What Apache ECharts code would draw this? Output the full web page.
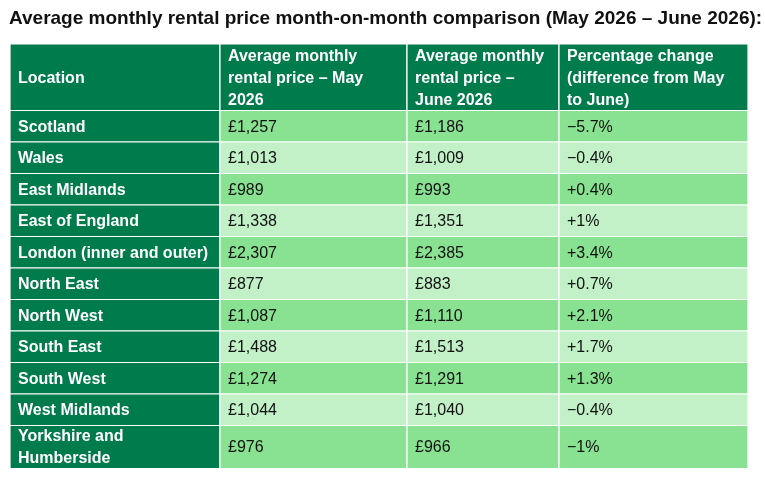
<!DOCTYPE html>
<html>
<head>
<meta charset="utf-8">
<script src="https://cdn.jsdelivr.net/npm/echarts@6/dist/echarts.min.js"></script>
<style>
  html, body { margin: 0; padding: 0; background: #fff; }
  #main { width: 765px; height: 484px; }
</style>
</head>
<body>
<div id="main"></div>
<script>
  var headers = [
    'Location',
    'Average monthly\nrental price – May\n2026',
    'Average monthly\nrental price –\nJune 2026',
    'Percentage change\n(difference from May\nto June)'
  ];
  var locations = ['Scotland', 'Wales', 'East Midlands', 'East of England', 'London (inner and outer)',
    'North East', 'North West', 'South East', 'South West', 'West Midlands', 'Yorkshire and\nHumberside'];
  var mayPrices = ['£1,257', '£1,013', '£989', '£1,338', '£2,307', '£877', '£1,087', '£1,488', '£1,274', '£1,044', '£976'];
  var junePrices = ['£1,186', '£1,009', '£993', '£1,351', '£2,385', '£883', '£1,110', '£1,513', '£1,291', '£1,040', '£966'];
  var changes = ['−5.7%', '−0.4%', '+0.4%', '+1%', '+3.4%', '+0.7%', '+2.1%', '+1.7%', '+1.3%', '−0.4%', '−1%'];

  // layout (in table units = pixels)
  var colEdges = [0, 210, 397, 549, 738];
  var rowHeights = [66.5, 31.5, 31.5, 31.5, 31.5, 31.5, 31.5, 31.5, 31.5, 31.5, 31.5, 43];
  var rowEdges = [0];
  for (var r = 0; r < rowHeights.length; r++) rowEdges.push(rowEdges[r] + rowHeights[r]);

  var cells = [];
  for (var c = 0; c < headers.length; c++) cells.push([c, 0, headers[c]]);
  for (var i = 0; i < locations.length; i++) {
    cells.push([0, i + 1, locations[i]]);
    cells.push([1, i + 1, mayPrices[i]]);
    cells.push([2, i + 1, junePrices[i]]);
    cells.push([3, i + 1, changes[i]]);
  }

  var DARK = '#007b4c', ROW_A = '#88e291', ROW_B = '#c2f0c7';
  var FONT = "'Liberation Sans', Arial, sans-serif";

  var chart = echarts.init(document.getElementById('main'), null, { renderer: 'canvas' });

  function renderCell(params, api) {
    var col = api.value(0), row = api.value(1);
    var text = cells[params.dataIndex][2];
    var p0 = api.coord([colEdges[col], rowEdges[row]]);
    var p1 = api.coord([colEdges[col + 1], rowEdges[row + 1]]);
    var isDark = row === 0 || col === 0;
    var fill = isDark ? DARK : ((row - 1) % 2 === 0 ? ROW_A : ROW_B);
    return {
      type: 'group',
      children: [{
        type: 'rect',
        shape: { x: p0[0], y: p0[1], width: p1[0] - p0[0], height: p1[1] - p0[1] },
        style: { fill: fill, stroke: '#ffffff', lineWidth: 1.2 }
      }, {
        type: 'text',
        style: {
          text: text,
          x: p0[0] + 8,
          y: (p0[1] + p1[1]) / 2 + 1,
          verticalAlign: 'middle',
          align: 'left',
          fill: isDark ? '#ffffff' : '#111111',
          fontFamily: FONT,
          fontSize: 16,
          fontWeight: isDark ? 'bold' : 'normal',
          lineHeight: 22
        }
      }]
    };
  }

  var option = {
    animation: false,
    title: {
      text: 'Average monthly rental price month-on-month comparison (May 2026 – June 2026):',
      left: 9,
      top: 9,
      padding: 0,
      textStyle: { fontFamily: FONT, fontSize: 19, fontWeight: 'bold', color: '#111111' }
    },
    grid: { left: 10, top: 44, width: 738, height: 424.5 },
    xAxis: { type: 'value', min: 0, max: 738, show: false },
    yAxis: { type: 'value', min: 0, max: 424.5, inverse: true, show: false },
    series: [{
      type: 'custom',
      renderItem: renderCell,
      encode: { x: 0, y: 1 },
      data: cells.map(function (d) { return [d[0], d[1]]; })
    }]
  };

  chart.setOption(option);
</script>
</body>
</html>
